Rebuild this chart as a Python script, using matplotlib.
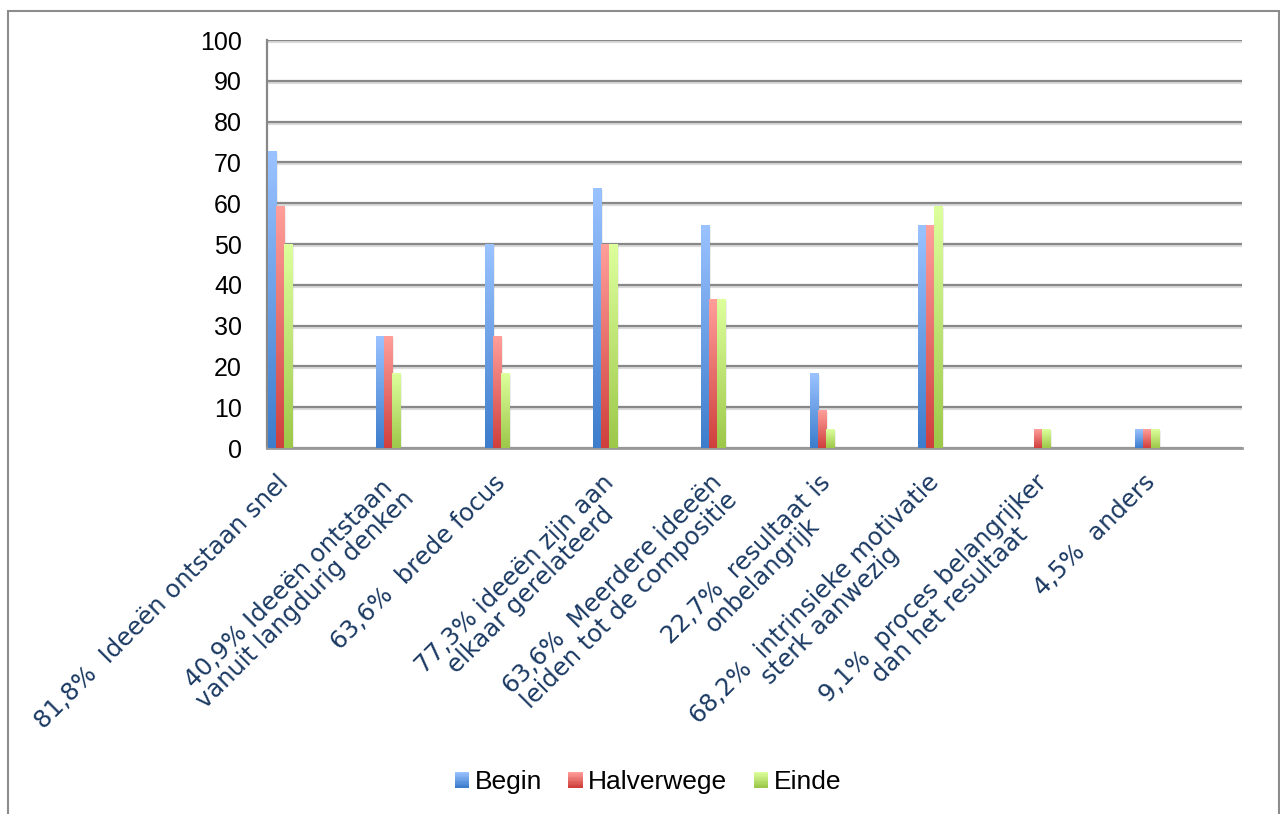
import numpy as np
import matplotlib
matplotlib.use('Agg')
import matplotlib.pyplot as plt
from matplotlib.patches import Rectangle
from matplotlib.legend_handler import HandlerBase
from matplotlib import patheffects as pe
from matplotlib.colors import to_rgb

# survey answers (percentage of respondents per moment)
categories = [
    '81,8%  Ideeën ontstaan snel',
    '40,9% Ideeën ontstaan\nvanuit langdurig denken',
    '63,6%  brede focus',
    '77,3% ideeën zijn aan\nelkaar gerelateerd',
    '63,6%  Meerdere ideeën\nleiden tot de compositie',
    '22,7%  resultaat is\nonbelangrijk',
    '68,2%  intrinsieke motivatie\nsterk aanwezig',
    '9,1%  proces belangrijker\ndan het resultaat',
    '4,5%  anders',
]
series_names = ['Begin', 'Halverwege', 'Einde']
begin = [72.7, 27.3, 50.0, 63.6, 54.5, 18.2, 54.5, 0.0, 4.5]
halverwege = [59.1, 27.3, 27.3, 50.0, 36.4, 9.1, 54.5, 4.5, 4.5]
einde = [50.0, 18.2, 18.2, 50.0, 36.4, 4.5, 59.1, 4.5, 4.5]
y_ticks = list(range(0, 101, 10))

# (bottom colour, top colour) for the vertical gradients
gradients = [('#3d7dcc', '#9ac2ff'),
             ('#cf403d', '#ff9e9a'),
             ('#9dc84a', '#ddff9c')]


def gradient_image(bottom, top, n=64):
    b = np.array(to_rgb(bottom))
    t = np.array(to_rgb(top))
    f = np.linspace(0, 1, n)[:, None]
    return (b * (1 - f) + t * f)[:, None, :]


class GradientHandler(HandlerBase):
    def __init__(self, bottom, top, steps=12):
        super().__init__()
        self.bottom = np.array(to_rgb(bottom))
        self.top = np.array(to_rgb(top))
        self.steps = steps

    def create_artists(self, legend, orig_handle, xdescent, ydescent,
                       width, height, fontsize, trans):
        arts = []
        h = height / self.steps
        for k in range(self.steps):
            f = k / (self.steps - 1)
            c = self.bottom * (1 - f) + self.top * f
            arts.append(Rectangle((-xdescent, -ydescent + k * h), width, h * 1.05,
                                  facecolor=c, edgecolor='none', transform=trans))
        return arts


fig = plt.figure(figsize=(12.8, 8.14), dpi=100)
ax = fig.add_axes([267 / 1280, 1 - 448 / 814, 975 / 1280, 408 / 814])

x = np.arange(len(categories))
w = 8 / 108.3
all_series = [begin, halverwege, einde]
handles = []
for k, (vals, name, (c0, c1)) in enumerate(zip(all_series, series_names, gradients)):
    bars = ax.bar(x + (k - 1) * w, vals, width=w, color=c0, label=name, zorder=3,
                  linewidth=0,
                  path_effects=[pe.SimplePatchShadow(offset=(1.5, -1), shadow_rgbFace='#888888', alpha=0.15),
                                pe.Normal()])
    handles.append(bars)
    img = gradient_image(c0, c1)
    for b in bars:
        if b.get_height() <= 0:
            continue
        ax.imshow(img, extent=(b.get_x(), b.get_x() + b.get_width(), 0, b.get_height()),
                  origin='lower', aspect='auto', interpolation='bilinear', zorder=4)

ax.set_xlim(-0.12, 8.88)
ax.set_ylim(0, 100)
ax.set_yticks(y_ticks)
ax.set_axisbelow(True)
ax.yaxis.grid(True, color='#888888', linewidth=1.6)
for gl in ax.get_ygridlines():
    gl.set_path_effects([pe.SimpleLineShadow(offset=(0, -1.5), shadow_color='#999999', alpha=0.35),
                         pe.Normal()])

for side in ['top', 'right']:
    ax.spines[side].set_visible(False)
ax.spines['left'].set_color('#888888')
ax.spines['left'].set_linewidth(1.6)
ax.spines['bottom'].set_color('#999999')
ax.spines['bottom'].set_linewidth(2)

ax.tick_params(axis='y', length=0, pad=18, labelsize=18)
for t in ax.get_yticklabels():
    t.set_fontfamily('Liberation Sans')

# first line of each category label ends just below its bar group
ax.set_xticks(x - 0.03, categories)
ax.tick_params(axis='x', length=0, pad=16)
plt.setp(ax.get_xticklabels(), rotation=45, ha='right', va='top',
         rotation_mode='anchor', multialignment='center', fontsize=17.5,
         color='#1b3a63', linespacing=0.95, fontfamily='DejaVu Sans')

leg = fig.legend(handles, series_names, loc='center', bbox_to_anchor=(648 / 1280, 1 - 782 / 814),
                 ncol=3, frameon=False, handlelength=0.55, handleheight=0.55,
                 handletextpad=0.2, columnspacing=1.0,
                 prop={'family': 'Liberation Sans', 'size': 19},
                 handler_map={h: GradientHandler(c0, c1) for h, (c0, c1) in zip(handles, gradients)})

# outer chart frame
fig.patches.append(Rectangle((8 / 1280, -0.02), 1271 / 1280, 1.02 - 11 / 814,
                             transform=fig.transFigure, fill=False,
                             edgecolor='#8c8c8c', linewidth=1.5))

fig.savefig('out.png', dpi=100)
